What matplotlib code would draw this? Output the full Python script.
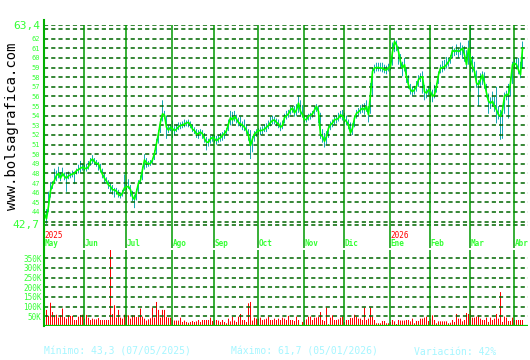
import matplotlib
matplotlib.use('Agg')
import matplotlib.pyplot as plt
from matplotlib.lines import Line2D
from matplotlib.transforms import blended_transform_factory

# precios diarios (cierre, maximo, minimo)
close = [43.8, 43.3, 44.6, 46.2, 46.8, 47.3, 47.8, 48.0, 47.5, 48.0,
         47.7, 47.5, 47.75, 47.85, 47.95, 48.0, 48.3, 48.4, 48.55, 48.65,
         48.55, 48.5, 48.7, 49.3, 49.5, 49.2, 49.05, 49.0, 48.4, 47.9,
         47.5, 47.2, 46.8, 46.65, 46.3, 46.3, 46.15, 45.8, 45.7, 46.0,
         46.5, 46.6, 46.65, 46.3, 45.6, 45.3, 46.1, 47.0, 47.3, 48.4,
         49.4, 49.1, 49.0, 49.05, 49.4, 50.1, 51.1, 52.15, 53.35, 54.2,
         54.05, 52.8, 52.5, 52.8, 52.65, 52.45, 52.6, 52.85, 53.0, 53.0,
         53.15, 53.25, 53.3, 53.05, 52.6, 52.45, 52.1, 52.15, 52.3, 52.1,
         51.6, 51.25, 51.25, 51.6, 51.75, 51.6, 51.4, 51.6, 51.7, 51.95,
         52.15, 52.45, 53.15, 53.8, 53.55, 53.9, 53.65, 53.3, 53.15, 53.0,
         52.8, 52.45, 51.95, 50.9, 51.6, 52.1, 52.3, 52.45, 52.45, 52.5,
         52.6, 52.8, 53.0, 53.3, 53.5, 53.55, 53.3, 53.15, 52.8, 53.0,
         53.8, 54.0, 54.2, 54.6, 54.8, 54.3, 54.6, 55.3, 54.45, 54.1,
         53.6, 53.6, 53.95, 54.05, 54.2, 54.6, 54.95, 54.45, 52.05, 51.85,
         51.35, 51.85, 52.7, 53.05, 53.25, 53.6, 53.6, 53.75, 54.1, 53.95,
         53.6, 53.4, 53.05, 52.2, 52.7, 53.75, 54.25, 54.4, 54.6, 54.8,
         54.6, 54.95, 54.1, 56.2, 58.6, 58.95, 59.0, 59.0, 58.95, 58.95,
         58.75, 58.75, 59.0, 59.1, 60.65, 61.7, 61.35, 60.65, 59.6, 58.95,
         59.3, 58.05, 57.2, 56.7, 56.5, 56.7, 57.05, 57.75, 57.95, 58.05,
         56.5, 56.35, 56.7, 56.5, 56.0, 56.2, 57.05, 58.25, 58.95, 59.0,
         59.1, 59.3, 59.6, 59.95, 60.8, 60.65, 60.8, 60.65, 60.8, 61.0,
         60.3, 59.3, 61.0, 59.95, 59.1, 58.6, 57.4, 57.2, 57.75, 58.25,
         57.4, 56.35, 55.5, 55.3, 55.5, 54.95, 54.6, 54.1, 53.95, 54.6,
         56.0, 56.2, 56.2, 57.4, 59.3, 59.45, 59.3, 58.75, 58.25, 61.0]

high = [44.5, 44.3, 46.1, 47.1, 47.2, 48.5, 48.3, 48.7, 48.1, 48.6,
        48.1, 48.0, 48.2, 48.1, 48.3, 48.2, 48.5, 48.9, 49.3, 49.0,
        48.9, 49.0, 49.3, 49.6, 49.9, 49.6, 49.4, 49.2, 49.0, 48.5,
        48.0, 47.6, 47.3, 47.0, 46.8, 46.5, 46.5, 46.3, 46.0, 46.3,
        47.9, 47.1, 47.4, 46.8, 46.2, 45.8, 46.4, 47.3, 47.8, 48.7,
        50.0, 49.6, 49.3, 49.4, 49.6, 50.4, 51.6, 52.5, 53.7, 55.6,
        54.5, 54.0, 53.0, 53.1, 53.5, 52.9, 53.1, 53.3, 53.3, 53.4,
        53.6, 53.5, 53.6, 53.4, 53.1, 52.8, 52.6, 52.5, 52.6, 52.5,
        52.2, 51.8, 51.6, 51.9, 52.0, 52.0, 51.9, 52.0, 52.2, 52.3,
        52.5, 52.7, 53.6, 54.5, 54.4, 54.5, 54.1, 53.8, 53.9, 53.4,
        53.6, 53.1, 52.6, 52.5, 51.9, 52.4, 52.6, 52.7, 52.8, 52.9,
        53.1, 53.2, 53.5, 53.9, 54.0, 53.9, 53.7, 53.6, 53.3, 53.5,
        54.2, 54.5, 54.6, 54.9, 55.0, 55.0, 55.2, 56.1, 55.6, 55.1,
        54.1, 53.9, 54.2, 54.3, 54.5, 55.0, 55.2, 55.0, 54.3, 52.6,
        52.2, 52.4, 53.0, 53.4, 53.6, 53.9, 54.0, 54.3, 54.5, 54.6,
        54.3, 54.0, 53.6, 53.3, 53.2, 54.0, 54.6, 54.8, 55.1, 55.2,
        55.3, 55.6, 55.0, 57.4, 59.0, 59.3, 59.5, 59.5, 59.5, 59.5,
        59.3, 59.2, 59.4, 59.6, 61.6, 61.9, 61.8, 61.2, 60.4, 59.6,
        60.0, 58.9, 58.2, 57.3, 57.0, 57.1, 57.6, 58.2, 58.4, 58.6,
        57.2, 56.8, 57.1, 57.5, 56.7, 57.2, 57.4, 58.6, 59.3, 59.7,
        59.8, 60.1, 60.0, 60.3, 61.2, 61.0, 61.4, 61.0, 61.6, 61.3,
        61.2, 60.8, 61.8, 63.4, 60.2, 59.6, 58.7, 57.7, 58.4, 58.6,
        58.5, 57.3, 56.3, 55.9, 56.5, 56.0, 57.0, 55.0, 54.6, 55.0,
        56.4, 56.6, 57.3, 58.0, 59.6, 60.0, 60.0, 60.0, 59.6, 61.7]

low = [43.3, 42.8, 44.0, 45.5, 46.4, 47.0, 47.2, 47.5, 47.2, 47.7,
       47.3, 46.1, 47.4, 47.5, 47.6, 46.9, 47.9, 48.0, 48.1, 48.3,
       48.3, 48.2, 48.4, 48.8, 49.0, 48.9, 48.7, 48.3, 48.1, 47.5,
       47.0, 46.9, 46.4, 46.1, 45.8, 45.5, 45.8, 45.5, 45.4, 45.6,
       46.2, 46.3, 46.4, 45.6, 45.1, 44.4, 45.2, 46.0, 46.9, 47.3,
       48.4, 48.6, 48.7, 48.8, 49.0, 49.4, 50.0, 51.1, 52.2, 53.4,
       53.7, 51.6, 52.2, 52.4, 51.7, 52.0, 52.3, 52.5, 52.6, 52.7,
       52.8, 52.9, 52.8, 52.7, 52.3, 52.1, 51.7, 51.6, 51.9, 51.6,
       51.2, 50.4, 50.8, 51.1, 51.3, 51.2, 51.0, 51.2, 51.3, 51.4,
       51.6, 52.0, 52.4, 53.0, 53.1, 53.4, 53.2, 52.9, 52.8, 52.5,
       52.4, 52.1, 51.4, 49.5, 50.2, 51.3, 51.8, 52.0, 52.0, 52.1,
       52.3, 52.3, 52.6, 52.9, 53.1, 53.1, 52.9, 52.7, 52.4, 52.6,
       53.2, 53.6, 53.8, 54.1, 54.3, 53.9, 54.0, 54.3, 54.0, 53.8,
       53.3, 53.3, 53.5, 53.6, 53.8, 54.1, 54.4, 53.2, 51.6, 51.2,
       50.7, 51.0, 51.7, 52.5, 52.8, 53.1, 53.2, 53.4, 53.7, 53.5,
       53.2, 53.0, 52.6, 51.9, 52.0, 52.8, 53.7, 54.0, 54.2, 54.3,
       54.1, 54.4, 53.3, 54.2, 56.0, 58.4, 58.6, 58.6, 58.6, 58.5,
       58.4, 58.3, 58.6, 58.7, 59.2, 60.6, 60.7, 59.3, 59.0, 58.1,
       58.6, 57.4, 56.8, 56.2, 56.0, 56.2, 56.5, 57.0, 57.5, 56.3,
       55.6, 55.8, 56.1, 55.4, 55.4, 55.8, 56.4, 57.3, 58.4, 58.5,
       58.7, 58.9, 59.1, 59.4, 60.0, 60.2, 60.3, 60.0, 60.3, 59.9,
       59.6, 59.0, 59.3, 56.5, 58.5, 58.0, 56.9, 55.0, 56.9, 57.2,
       56.8, 55.9, 54.2, 54.7, 55.0, 54.4, 53.2, 53.6, 51.5, 51.6,
       54.2, 55.6, 53.7, 56.0, 57.3, 58.9, 58.8, 58.3, 57.9, 58.9]

# volumen en miles
volume = [60, 83, 52, 120, 72, 55, 58, 43, 55, 90,
          46, 38, 55, 52, 52, 31, 31, 48, 57, 58,
          38, 57, 43, 31, 38, 34, 34, 41, 31, 31,
          31, 31, 31, 392, 62, 107, 43, 83, 43, 38,
          58, 55, 55, 38, 55, 55, 46, 46, 90, 48,
          38, 28, 34, 40, 95, 43, 124, 83, 43, 83,
          83, 46, 43, 43, 31, 28, 28, 28, 43, 21,
          28, 21, 17, 21, 26, 21, 24, 31, 21, 31,
          31, 31, 31, 43, 26, 31, 31, 28, 21, 31,
          21, 14, 38, 24, 48, 28, 21, 48, 62, 31,
          31, 21, 117, 124, 28, 43, 38, 38, 43, 31,
          34, 38, 48, 31, 31, 38, 31, 38, 31, 43,
          38, 31, 52, 31, 31, 26, 48, 31, 3, 21,
          31, 34, 48, 48, 31, 43, 43, 48, 72, 31,
          26, 95, 9, 43, 55, 31, 31, 34, 43, 48,
          21, 31, 31, 41, 41, 58, 48, 38, 38, 31,
          95, 31, 38, 95, 48, 31, 14, 14, 14, 26,
          26, 14, 14, 21, 31, 24, 10, 31, 28, 28,
          28, 31, 31, 24, 38, 14, 26, 26, 38, 38,
          43, 48, 26, 38, 55, 31, 14, 24, 24, 24,
          24, 24, 14, 17, 31, 21, 62, 38, 38, 24,
          31, 67, 62, 86, 43, 43, 48, 55, 38, 31,
          31, 43, 21, 43, 31, 38, 62, 38, 175, 21,
          48, 43, 26, 26, 43, 31, 31, 31, 31, 31]

months = ['May', 'Jun', 'Jul', 'Ago', 'Sep', 'Oct', 'Nov', 'Dic',
          'Ene', 'Feb', 'Mar', 'Abr']
month_start = [0, 20, 41, 64, 85, 107, 130, 150, 173, 193, 213, 235]
year_labels = ['2025', '2026']
year_start = [0, 173]

price_min, price_max = 42.7, 63.4
price_ticks = list(range(44, 63))
grid_levels = [price_min] + list(range(43, 64)) + [price_max]
vol_ticks = [50, 100, 150, 200, 250, 300, 350]
vol_top = 392

footer = ['Mínimo: 43,3 (07/05/2025)', 'Máximo: 61,7 (05/01/2026)',
          'Variación: 42%']

W, H = 530, 360
GREEN = '#33ff33'
GRID = '#006600'
MLINE = '#009900'
MONO = 'DejaVu Sans Mono'
DASH = [(0, (3.0, 2.2))]
plt.rcParams['lines.scale_dashes'] = False

fig = plt.figure(figsize=(W / 100, H / 100), dpi=100)
fig.patch.set_facecolor('white')

n_slots = 242
# cada sesion ocupa 2px; la barra de 1px va en el borde izquierdo del hueco
xs = list(range(len(close)))
xc = [i + 0.25 for i in xs]

# panel de precios: 63,4 en y=25px, 42,7 en y=224.5px, baja hasta 248px
px_per_unit = (224.5 - 25.2) / (price_max - price_min)
y_bottom = price_min - (248 - 224.5) / px_per_unit
ax = fig.add_axes([44 / W, 1 - 248 / H, 484 / W, (248 - 25.2) / H])
ax.set_xlim(0, n_slots)
ax.set_ylim(y_bottom, price_max)
for s in ax.spines.values():
    s.set_visible(False)
ax.set_xticks([])
ax.hlines(grid_levels, 0, n_slots, colors=GRID, lw=1.1, linestyles=DASH)
ax.vlines(month_start[1:], y_bottom, price_max, colors=MLINE, lw=1.1)
ax.bar(xs, [h - l for h, l in zip(high, low)], bottom=low, width=0.5,
       align='edge', color='#19a9b5', linewidth=0, snap=False)
ax.plot(xc, close, color='#00ff00', lw=1.2)

ticks = [price_min] + price_ticks + [price_max]
ax.set_yticks(ticks)
labels = ax.set_yticklabels(['42,7'] + [str(t) for t in price_ticks] + ['63,4'])
ax.tick_params(axis='y', length=0, pad=3, colors=GREEN, labelsize=5)
for lab in labels:
    lab.set_family(MONO)
labels[0].set_fontsize(8)
labels[-1].set_fontsize(8)

tr = blended_transform_factory(ax.transData, fig.transFigure)
for m, pos in zip(months, month_start):
    ax.text(pos + 0.3, 1 - 244 / H, m, transform=tr, color=GREEN,
            fontsize=5.5, family=MONO, weight='bold', va='center', ha='left')
for yl, pos in zip(year_labels, year_start):
    ax.text(pos + 0.3, 1 - 236 / H, yl, transform=tr, color='#ff0000',
            fontsize=5.5, family=MONO, va='center', ha='left')

# panel de volumen
ax2 = fig.add_axes([44 / W, 1 - 326 / H, 484 / W, 76 / H])
ax2.set_xlim(0, n_slots)
ax2.set_ylim(0, vol_top)
for s in ax2.spines.values():
    s.set_visible(False)
ax2.set_xticks([])
ax2.hlines(vol_ticks, 0, n_slots, colors=GRID, lw=1.1, linestyles=DASH)
ax2.vlines(month_start[1:], 0, vol_top, colors=MLINE, lw=1.1)
ax2.bar(xs, volume, width=0.5, align='edge', color='#ff0000', linewidth=0,
        snap=False)
ax2.axhline(0, color='#00cc00', lw=1.6)
ax2.set_yticks(vol_ticks)
vlabels = ax2.set_yticklabels([f'{v}K' for v in vol_ticks])
ax2.tick_params(axis='y', length=0, pad=1.7, colors=GREEN, labelsize=5.5)
for lab in vlabels:
    lab.set_family(MONO)

# eje izquierdo continuo
fig.add_artist(Line2D([43.5 / W, 43.5 / W], [1 - 20 / H, 1 - 326 / H],
                      color='#00b000', lw=1.5))

fig.text(12 / W, 1 - 126 / H, 'www.bolsagrafica.com', rotation=90,
         ha='center', va='center', fontsize=10, family=MONO, color='black')

for txt, px in zip(footer, [44, 231, 414]):
    fig.text(px / W, 1 - 352 / H, txt, ha='left', va='center',
             fontsize=7, family=MONO, color='#a6f6ff')

fig.savefig('out.png', dpi=100)
